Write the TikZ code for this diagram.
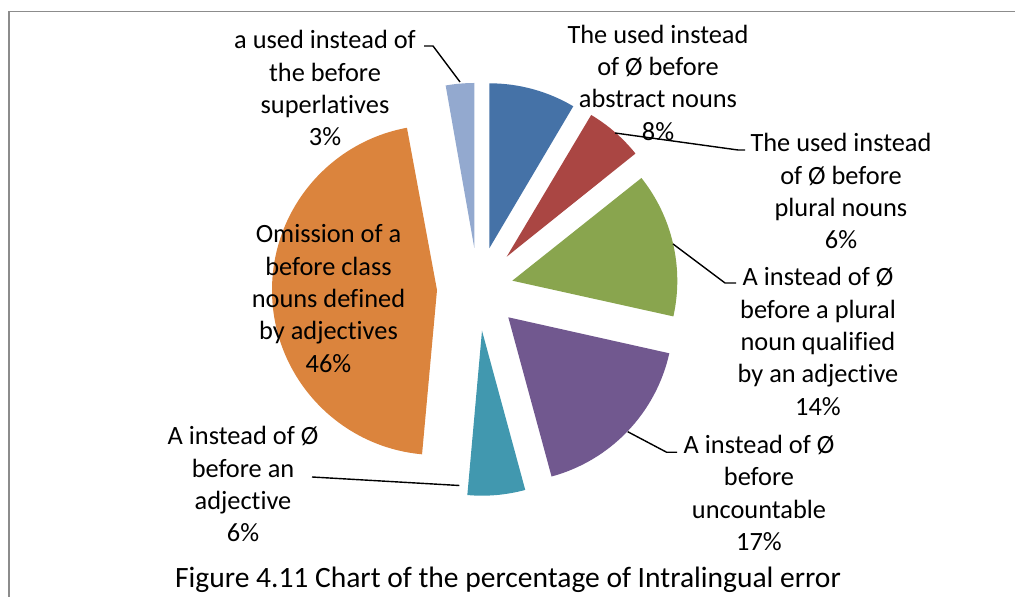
\documentclass[tikz,border=0pt]{standalone}
\usepackage{fontspec}
\setmainfont[Ligatures=NoCommon]{Carlito}
\definecolor{cblue}{RGB}{69,114,167}
\definecolor{cred}{RGB}{170,70,67}
\definecolor{cgreen}{RGB}{137,165,78}
\definecolor{cpurple}{RGB}{113,88,143}
\definecolor{cteal}{RGB}{65,152,175}
\definecolor{corange}{RGB}{219,132,61}
\definecolor{clblue}{RGB}{147,169,207}
\definecolor{framecol}{RGB}{140,140,140}
\begin{document}
\begin{tikzpicture}[x=0.02cm,y=0.02cm,
  lbl/.style={align=center,font=\fontsize{15}{18.4}\selectfont,inner sep=0pt},
  captext/.style={font=\fontsize{16.8}{20}\selectfont,inner sep=0pt},
  lead/.style={draw=black,line width=0.8pt},
  framel/.style={draw=framecol,line width=1.1pt}]
\useasboundingbox (0,0) rectangle (1015,-597);
% frame
\coordinate (f1) at (1015,-11.5);
\coordinate (f2) at (9,-11.5);
\coordinate (f3) at (9,-597);
\draw[framel] (f1) -- (f2) -- (f3);
% slices
\fill[cblue]   (489.3,-248.3) -- ++(90:165)   arc[start angle=90,   end angle=59.4,  radius=165] -- cycle;
\fill[cred]    (506.7,-256.7) -- ++(59.2:165) arc[start angle=59.2, end angle=38.7,  radius=165] -- cycle;
\fill[cgreen]  (512.3,-280.7) -- ++(38.5:165) arc[start angle=38.5, end angle=-12.5, radius=165] -- cycle;
\fill[cpurple] (508.3,-317.3) -- ++(-12.6:165) arc[start angle=-12.6, end angle=-74.8, radius=165] -- cycle;
\fill[cteal]   (482,-330.7)   -- ++(-74.8:165) arc[start angle=-74.8, end angle=-95.1, radius=165] -- cycle;
\fill[corange] (437,-290)     -- ++(-95.2:165) arc[start angle=-95.2, end angle=-259.5, radius=165] -- cycle;
\fill[clblue]  (474.3,-248)   -- ++(-260:165) arc[start angle=-260, end angle=-270, radius=165] -- cycle;
% labels
\node[lbl] (llb) at (325,-88.3) {a used instead of\\the before\\superlatives\\3\%};
\node[lbl] (lblue) at (658,-82.5) {The used instead\\of Ø before\\abstract nouns\\8\%};
\node[lbl] (lred) at (841,-191.3) {The used instead\\of Ø before\\plural nouns\\6\%};
\node[lbl] (lgreen) at (818,-341.5) {A instead of Ø\\before a plural\\noun qualified\\by an adjective\\14\%};
\node[lbl] (lpurple) at (759,-492.8) {A instead of Ø\\before\\uncountable\\17\%};
\node[lbl] (lteal) at (243,-484.3) {A instead of Ø\\before an\\adjective\\6\%};
\node[lbl] (lorange) at (328.5,-298.5) {Omission of a\\before class\\nouns defined\\by adjectives\\46\%};
\node[captext] (caption) at (508,-580) {Figure 4.11 Chart of the percentage of Intralingual error};
% leader lines
\coordinate (lb1) at (424,-46);
\coordinate (lb2) at (433,-46);
\coordinate (lb3) at (460,-82);
\draw[lead] (lb1) -- (lb2) -- (lb3);
\coordinate (r1) at (615,-133);
\coordinate (r2) at (738,-150);
\coordinate (r3) at (745,-150);
\draw[lead] (r1) -- (r2) -- (r3);
\coordinate (g1) at (673,-244);
\coordinate (g2) at (725,-283);
\coordinate (g3) at (736,-283);
\draw[lead] (g1) -- (g2) -- (g3);
\coordinate (p1) at (627.7,-431.7);
\coordinate (p2) at (666.7,-452.3);
\coordinate (p3) at (677,-452.3);
\draw[lead] (p1) -- (p2) -- (p3);
\coordinate (t1) at (312,-477);
\coordinate (t2) at (459.3,-485.5);
\draw[lead] (t1) -- (t2);
\end{tikzpicture}
\end{document}
